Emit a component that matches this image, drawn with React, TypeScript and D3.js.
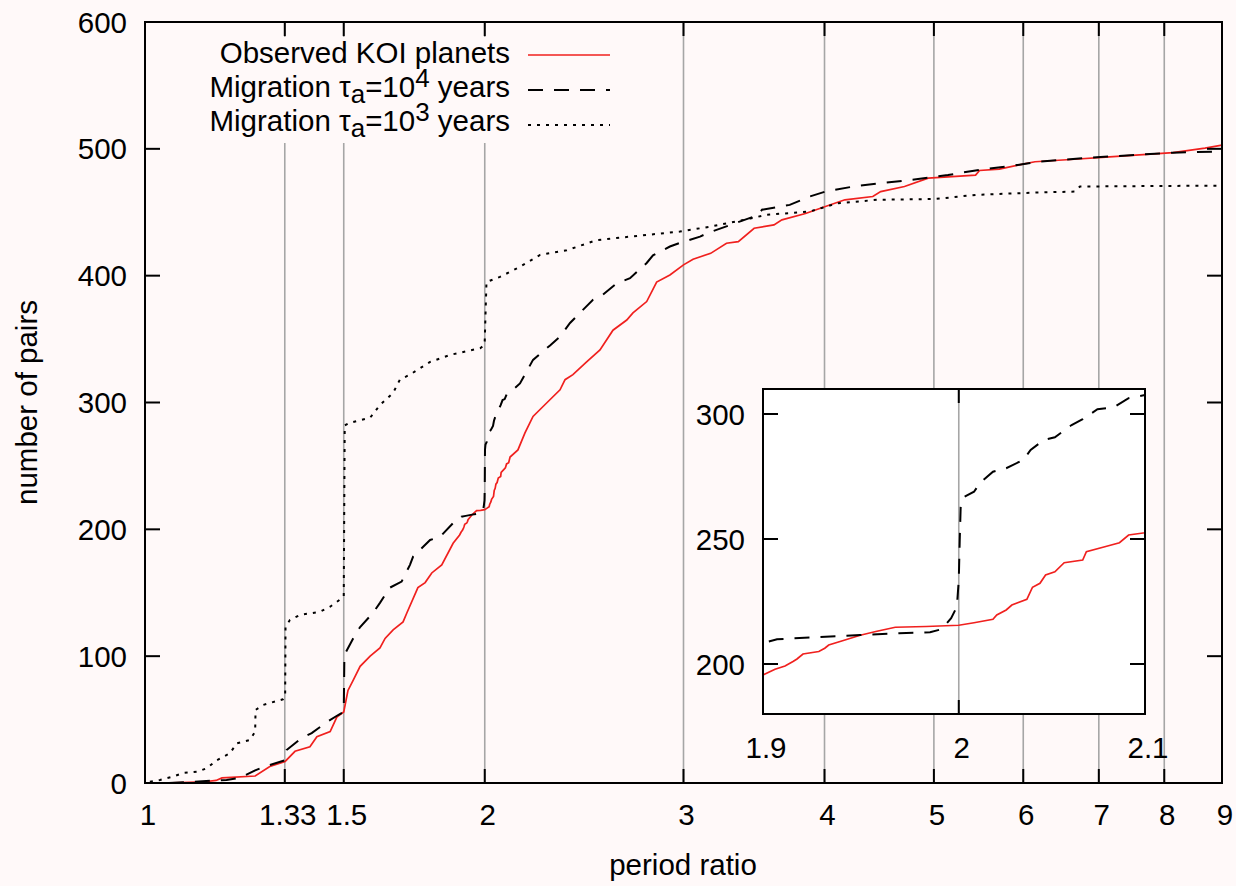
import * as d3 from "d3";

// observed KOI planet pairs (cumulative count vs period ratio)
const obsRatio = [
  1.04, 1.13, 1.156, 1.17, 1.252, 1.29, 1.331, 1.358, 1.4, 1.42, 1.459, 1.479, 1.5, 1.513, 1.529, 1.551, 1.583,
  1.615, 1.632, 1.659, 1.693, 1.706, 1.745, 1.771, 1.795, 1.832, 1.875,
  1.9, 1.906, 1.911, 1.915, 1.917, 1.92, 1.928, 1.931, 1.933, 1.94, 1.949, 1.957, 1.967, 1.983, 2.0, 2.008,
  2.018, 2.02, 2.025, 2.028, 2.036, 2.039, 2.043, 2.046, 2.051, 2.056, 2.066, 2.068, 2.078, 2.086, 2.091, 2.1,
  2.106, 2.14, 2.171, 2.207, 2.269, 2.332, 2.356, 2.394, 2.462, 2.53, 2.598, 2.672, 2.706, 2.783, 2.84, 2.918,
  3.0, 3.059, 3.171, 3.275, 3.355, 3.465, 3.608, 3.667, 3.848, 4.007, 4.17, 4.414, 4.486, 4.709, 4.942, 5.444,
  5.488, 5.714, 5.996, 6.145, 6.661, 7.1, 8.143, 8.693, 9.0,
];
const obsPairs = [
  0, 1, 2, 4, 5.5, 13, 17, 25, 28.6, 36.5, 40.5, 52, 56, 73, 81, 92, 100,
  106.5, 114, 120.7, 127, 134, 154, 158, 165.6, 172, 189,
  195.6, 197.9, 199.2, 201, 202, 204, 205, 206.3, 207.6, 209.3, 211.5, 213, 214.7, 215, 215.5, 216.5,
  217.9, 219.6, 221.6, 223.6, 225.9, 230.7, 232.3, 235.6, 236.9, 240.5, 241.6, 244.9, 246.9, 248.5, 251.6, 252.5,
  257, 262.6, 276, 289, 299.6, 310, 318, 322, 332, 341.5, 357, 365, 370.7, 379.6, 395, 400.6,
  408.5, 413, 417.6, 425.6, 426.8, 437.4, 440, 444, 449, 454.5, 459.8, 462.4, 466.3, 470.3, 476.9, 479.3,
  482.9, 484, 488, 489.8, 491.8, 493.4, 497, 500.5, 503,
];

// migration tau_a = 1e4 years
const mig4Ratio = [
  1.05, 1.181, 1.214, 1.252, 1.277, 1.331, 1.335, 1.377, 1.405, 1.449, 1.483, 1.5, 1.502, 1.529, 1.551, 1.592,
  1.615, 1.648, 1.688, 1.717, 1.728, 1.789, 1.825, 1.875,
  1.9, 1.907, 1.924, 1.949, 1.969, 1.985, 1.991, 1.996, 1.999, 2.0, 2.0005, 2.001, 2.003, 2.008, 2.011, 2.018,
  2.025, 2.034, 2.038, 2.045, 2.051, 2.06, 2.066, 2.074, 2.083, 2.091, 2.1,
  2.119, 2.149, 2.207, 2.285, 2.332, 2.38, 2.429, 2.494, 2.545, 2.618, 2.69, 2.783, 2.819, 2.918, 2.978, 3.103,
  3.154, 3.302, 3.492, 3.521, 3.726, 3.88, 4.007, 4.274, 4.823, 5.146, 5.444, 5.899, 6.195, 6.763, 8.143, 9.0,
];
const mig4Pairs = [
  0, 2.4, 4, 10, 13, 18, 26, 35.5, 39.4, 48, 53.6, 56, 101, 114, 123, 134,
  142, 154, 158.8, 172, 178.5, 191.6, 194, 205,
  208.3, 209.9, 210.6, 211.6, 212.3, 212.7, 213.9, 218.3, 222.9, 233.6, 249.6, 262.9, 266.9, 268.9, 272.3, 276.9,
  278.3, 281.6, 285.6, 289.6, 290.7, 295.6, 297.9, 301.9, 302.7, 306.3, 307.6,
  310, 315, 333.6, 345, 352, 362.7, 370.7, 381, 385, 394, 398, 410, 416, 423, 425.8, 430.8,
  433.7, 440, 447.8, 452, 455.8, 462.4, 466.3, 470.8, 476, 479.3, 483, 487, 489.8, 492.6, 497, 498,
];

// migration tau_a = 1e3 years
const mig3Ratio = [
  1.01, 1.031, 1.059, 1.081, 1.114, 1.134, 1.158, 1.189, 1.206, 1.239, 1.252, 1.253, 1.272, 1.325, 1.331, 1.332,
  1.344, 1.372, 1.429, 1.459, 1.494, 1.5, 1.503, 1.519, 1.583, 1.615, 1.659, 1.682, 1.717, 1.789, 1.863, 1.981,
  1.997, 2.0, 2.007, 2.063, 2.149, 2.239, 2.364, 2.513, 2.706, 2.978, 3.171, 3.436, 3.55, 3.88, 4.103, 4.45,
  5.021, 5.444, 6.145, 6.661, 6.736, 9.0,
];
const mig3Pairs = [
  1, 2.4, 5, 7.9, 9, 11.6, 18, 23.4, 31.3, 34, 40.5, 57.6, 61.5, 66, 68, 123,
  128.5, 132.5, 135, 139, 145.6, 147, 282, 284, 288, 298, 307.6, 318, 322, 332, 337.5, 342.8,
  345, 349, 395, 399, 407, 416.4, 420, 428, 431, 434.8, 438.7, 445, 448, 450.5, 457, 459.8,
  460.5, 463.7, 465.5, 466.3, 470.3, 471,
];

const xTicks = [1, 1.33, 1.5, 2, 3, 4, 5, 6, 7, 8, 9];
const xTickLabels = ["1", "1.33", "1.5", "2", "3", "4", "5", "6", "7", "8", "9"];
const gridRatios = [1.33, 1.5, 2, 3, 4, 5, 6, 7, 8];
const yTicks = [0, 100, 200, 300, 400, 500, 600];
const insetXTicks = [1.9, 2, 2.1];
const insetYTicks = [200, 250, 300];

const FONT = "'Liberation Sans', Arial, Helvetica, sans-serif";
const FS = 29.5;
const SUB = 26;
const BG = "#fff9f9";
const RED = "#f0201e";
const GRID = "#a6a6a6";
const TICK = 14;

export default function App() {
  const W = 1236;
  const H = 886;
  const m = { left: 145, right: 1222, top: 22, bottom: 783 };

  const x = d3.scaleLog().domain([1, 9]).range([m.left, m.right]);
  const y = d3.scaleLinear().domain([0, 600]).range([m.bottom, m.top]);

  const inset = { left: 763, right: 1145, top: 389, bottom: 714 };
  const xi = d3.scaleLog().domain([1.9, 2.1]).range([inset.left, inset.right]);
  const yi = d3.scaleLinear().domain([180, 310]).range([inset.bottom, inset.top]);

  const series = [
    { xs: obsRatio, ys: obsPairs, stroke: RED, width: 1.7, dash: undefined as string | undefined },
    { xs: mig4Ratio, ys: mig4Pairs, stroke: "#000", width: 2, dash: "15,11" },
    { xs: mig3Ratio, ys: mig3Pairs, stroke: "#000", width: 2, dash: "3,6" },
  ];

  const mainPath = (xs: number[], ys: number[]) =>
    d3.line<number>().x((d) => x(d)).y((_, i) => y(ys[i]))(xs) || "";
  const insetPath = (xs: number[], ys: number[]) =>
    d3.line<number>().x((d) => xi(d)).y((_, i) => yi(ys[i]))(xs) || "";

  const legendRows = [
    { base: 63, line: 55, s: series[0] },
    { base: 97, line: 90, s: series[1] },
    { base: 131, line: 125, s: series[2] },
  ];

  return (
    <svg
      width={W}
      height={H}
      style={{ position: "absolute", left: 0, top: 0 }}
      fontFamily={FONT}
      fontSize={FS}
    >
      <defs>
        <clipPath id="plotClip">
          <rect x={m.left} y={m.top} width={m.right - m.left} height={m.bottom - m.top} />
        </clipPath>
        <clipPath id="insetClip">
          <rect x={inset.left} y={inset.top} width={inset.right - inset.left} height={inset.bottom - inset.top} />
        </clipPath>
      </defs>
      <rect width={W} height={H} fill={BG} />

      {/* grid */}
      {gridRatios.map((r) => (
        <line key={"g" + r} x1={x(r)} x2={x(r)} y1={m.top} y2={m.bottom} stroke={GRID} strokeWidth={1.6} />
      ))}

      {/* legend background covers the grid */}
      <rect x={m.left + 2} y={37} width={480} height={106} fill={BG} />

      {/* curves */}
      <g clipPath="url(#plotClip)" fill="none">
        {series.map((s, i) => (
          <path key={i} d={mainPath(s.xs, s.ys)} stroke={s.stroke} strokeWidth={s.width} strokeDasharray={s.dash} />
        ))}
      </g>

      {/* frame and ticks */}
      <rect x={m.left} y={m.top} width={m.right - m.left} height={m.bottom - m.top} fill="none" stroke="#000" strokeWidth={2} />
      {xTicks.map((t) => (
        <g key={"xt" + t} stroke="#000" strokeWidth={2}>
          <line x1={x(t)} x2={x(t)} y1={m.bottom} y2={m.bottom - TICK} />
          <line x1={x(t)} x2={x(t)} y1={m.top} y2={m.top + TICK} />
        </g>
      ))}
      {yTicks.map((t) => (
        <g key={"yt" + t} stroke="#000" strokeWidth={2}>
          <line x1={m.left} x2={m.left + 15} y1={y(t)} y2={y(t)} />
          <line x1={m.right} x2={m.right - 15} y1={y(t)} y2={y(t)} />
        </g>
      ))}
      {xTicks.map((t, i) => (
        <text key={"xl" + t} x={x(t) + 3} y={m.bottom + 42} textAnchor="middle">
          {xTickLabels[i]}
        </text>
      ))}
      {yTicks.map((t) => (
        <text key={"yl" + t} x={m.left - 18} y={y(t)} dy="0.36em" textAnchor="end">
          {t}
        </text>
      ))}
      <text x={683} y={875} textAnchor="middle">period ratio</text>
      <text transform={`translate(37, ${(m.top + m.bottom) / 2}) rotate(-90)`} textAnchor="middle">
        number of pairs
      </text>

      {/* legend */}
      <text x={510} y={legendRows[0].base} textAnchor="end">Observed KOI planets</text>
      <text x={510} y={legendRows[1].base} textAnchor="end">
        Migration τ<tspan dy={6} fontSize={SUB}>a</tspan>
        <tspan dy={-6}>=10</tspan>
        <tspan dy={-10} fontSize={SUB}>4</tspan>
        <tspan dy={10}> years</tspan>
      </text>
      <text x={510} y={legendRows[2].base} textAnchor="end">
        Migration τ<tspan dy={6} fontSize={SUB}>a</tspan>
        <tspan dy={-6}>=10</tspan>
        <tspan dy={-10} fontSize={SUB}>3</tspan>
        <tspan dy={10}> years</tspan>
      </text>
      {legendRows.map((r, i) => (
        <line
          key={"lg" + i}
          x1={528}
          x2={610}
          y1={r.line}
          y2={r.line}
          stroke={r.s.stroke}
          strokeWidth={r.s.width}
          strokeDasharray={r.s.dash}
        />
      ))}

      {/* inset */}
      <rect x={inset.left} y={inset.top} width={inset.right - inset.left} height={inset.bottom - inset.top} fill="#fff" />
      <line x1={xi(2)} x2={xi(2)} y1={inset.top} y2={inset.bottom} stroke={GRID} strokeWidth={1.6} />
      <g clipPath="url(#insetClip)" fill="none">
        {series.map((s, i) => (
          <path key={"i" + i} d={insetPath(s.xs, s.ys)} stroke={s.stroke} strokeWidth={s.width} strokeDasharray={s.dash} />
        ))}
      </g>
      <rect
        x={inset.left}
        y={inset.top}
        width={inset.right - inset.left}
        height={inset.bottom - inset.top}
        fill="none"
        stroke="#000"
        strokeWidth={2}
      />
      {insetXTicks.map((t) => (
        <g key={"ixt" + t} stroke="#000" strokeWidth={2}>
          <line x1={xi(t)} x2={xi(t)} y1={inset.bottom} y2={inset.bottom - TICK} />
          <line x1={xi(t)} x2={xi(t)} y1={inset.top} y2={inset.top + TICK} />
        </g>
      ))}
      {insetYTicks.map((t) => (
        <g key={"iyt" + t} stroke="#000" strokeWidth={2}>
          <line x1={inset.left} x2={inset.left + 15} y1={yi(t)} y2={yi(t)} />
          <line x1={inset.right} x2={inset.right - 15} y1={yi(t)} y2={yi(t)} />
        </g>
      ))}
      {insetXTicks.map((t) => (
        <text key={"ixl" + t} x={xi(t) + 3} y={inset.bottom + 44} textAnchor="middle">
          {t}
        </text>
      ))}
      {insetYTicks.map((t) => (
        <text key={"iyl" + t} x={inset.left - 18} y={yi(t)} dy="0.36em" textAnchor="end">
          {t}
        </text>
      ))}
    </svg>
  );
}
